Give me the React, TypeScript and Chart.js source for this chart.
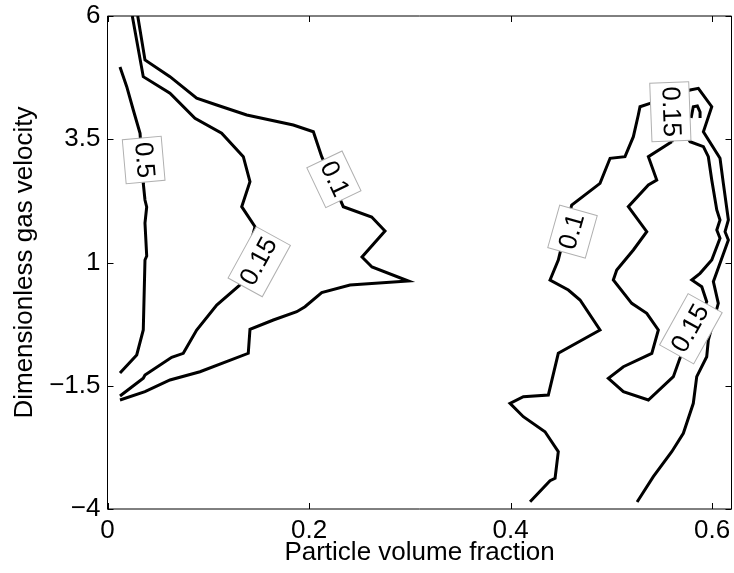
import React, { useEffect, useRef } from "react";
import { Chart, registerables } from "chart.js";

Chart.register(...registerables);

// Axis definitions
const xTicks = [0, 0.2, 0.4, 0.6];
const yTicks = [-4, -1.5, 1, 3.5, 6];
const xMin = 0;
const xMax = 0.6193;
const yMin = -4;
const yMax = 6;

// Contour 0.5 (left)
const c05X = [0.0124, 0.0191, 0.0256, 0.0323, 0.0355, 0.0372, 0.0389, 0.0372, 0.0389, 0.0372, 0.0355, 0.029, 0.0124];
const c05Y = [4.966, 4.566, 4.093, 3.621, 2.607, 2.268, 2.126, 1.801, 1.132, 1.051, -0.369, -0.876, -1.241];

// Contour 0.15 (left)
const c015LX = [0.0246, 0.0355, 0.062, 0.0868, 0.1133, 0.1348, 0.1414, 0.1332, 0.1464, 0.1315, 0.1084, 0.0885, 0.0752, 0.0637, 0.0372, 0.0355, 0.0124];
const c015LY = [6.0, 4.769, 4.432, 3.925, 3.621, 3.146, 2.639, 2.132, 1.726, 0.544, 0.138, -0.369, -0.842, -0.923, -1.282, -1.349, -1.708];

// Contour 0.1 (left)
const c01LX = [0.03, 0.0372, 0.062, 0.0885, 0.1084, 0.1382, 0.1844, 0.2043, 0.2126, 0.234, 0.2622, 0.2754, 0.2526, 0.2625, 0.2986, 0.2407, 0.2126, 0.196, 0.1878, 0.1646, 0.1414, 0.1397, 0.0918, 0.062, 0.0372, 0.0124];
const c01LY = [6.0, 5.108, 4.769, 4.331, 4.195, 3.992, 3.789, 3.653, 3.146, 2.132, 1.923, 1.639, 1.112, 0.909, 0.625, 0.544, 0.391, 0.103, 0.002, -0.166, -0.355, -0.842, -1.215, -1.383, -1.621, -1.789];

// Contour 0.1 (right arch)
const c01RX = [0.4194, 0.4392, 0.4442, 0.4474, 0.4342, 0.4127, 0.3995, 0.4127, 0.4375, 0.4474, 0.4888, 0.469, 0.4574, 0.4392, 0.4474, 0.4607, 0.4888, 0.4988, 0.5136, 0.5219, 0.5268, 0.5285, 0.5385, 0.5782, 0.5864, 0.5997, 0.5914, 0.6079, 0.6112, 0.6162, 0.6129, 0.6162, 0.6079, 0.6013, 0.6062, 0.5963, 0.5947, 0.5848, 0.5814, 0.5715, 0.56, 0.5417, 0.5256];
const c01RY = [-3.852, -3.426, -3.377, -2.838, -2.432, -2.128, -1.856, -1.722, -1.688, -0.842, -0.369, 0.239, 0.442, 0.645, 1.051, 2.166, 2.606, 3.114, 3.146, 3.552, 3.992, 4.16, 4.229, 4.499, 4.533, 4.16, 3.653, 3.114, 2.606, 1.862, 1.625, 1.456, 0.984, 0.611, 0.172, -0.572, -0.911, -1.316, -1.856, -2.465, -2.838, -3.345, -3.858];

// Contour 0.15 (right loop)
const c015RX = [0.56, 0.5368, 0.5451, 0.5368, 0.5169, 0.5352, 0.5219, 0.5054, 0.502, 0.5203, 0.5352, 0.5467, 0.5402, 0.512, 0.4971, 0.512, 0.5368, 0.5616, 0.5682, 0.5947, 0.5898, 0.5799, 0.5881, 0.5997, 0.6079, 0.6047, 0.6079, 0.6047, 0.5997, 0.5963, 0.5914, 0.5782, 0.5682, 0.56];
const c015RY = [3.45, 3.146, 2.673, 2.572, 2.132, 1.625, 1.254, 0.848, 0.645, 0.172, -0.03, -0.369, -0.842, -1.114, -1.349, -1.621, -1.789, -1.316, -0.937, 0.205, 0.509, 0.645, 0.781, 1.051, 1.491, 1.659, 1.862, 2.065, 2.673, 3.146, 3.349, 3.45, 3.789, 3.45];

// Small contour fragment next to the top-right label
const hookX = [0.5792, 0.5814, 0.5854, 0.5881, 0.5881];
const hookY = [3.931, 4.16, 4.174, 4.053, 3.931];

// Contour labels
const labelText = ["0.5", "0.1", "0.15", "0.1", "0.15", "0.15"];
const labelX = [0.0359, 0.2247, 0.1506, 0.4615, 0.5586, 0.579];
const labelY = [3.079, 2.688, 1.016, 1.625, 4.059, -0.344];
const labelAngle = [85, 64.6, -61.3, -74.3, 87.8, -60.9];

const FONT = "'Liberation Sans', Arial, Helvetica, sans-serif";

const fmt = (v: number) => (v < 0 ? "\u2212" + String(Math.abs(v)) : String(v));

const contourLabels = {
  id: "contourLabels",
  afterDatasetsDraw(chart: any) {
    const { ctx, scales } = chart;
    const xs = scales.x;
    const ys = scales.y;
    ctx.save();
    ctx.font = `26px ${FONT}`;
    for (let i = 0; i < labelText.length; i++) {
      const px = xs.getPixelForValue(labelX[i]);
      const py = ys.getPixelForValue(labelY[i]);
      const w = ctx.measureText(labelText[i]).width + 8;
      const h = 39;
      ctx.save();
      ctx.translate(px, py);
      ctx.rotate((labelAngle[i] * Math.PI) / 180);
      ctx.fillStyle = "#ffffff";
      ctx.fillRect(-w / 2, -h / 2, w, h);
      ctx.strokeStyle = "#b0b0b0";
      ctx.lineWidth = 1;
      ctx.strokeRect(-w / 2, -h / 2, w, h);
      ctx.fillStyle = "#000000";
      ctx.textAlign = "center";
      ctx.textBaseline = "middle";
      ctx.fillText(labelText[i], 0, 0);
      ctx.restore();
    }
    ctx.restore();
  },
};

const frame = {
  id: "frame",
  afterDraw(chart: any) {
    const { ctx, chartArea, scales } = chart;
    const { left, right, top, bottom } = chartArea;
    const tl = 6;
    ctx.save();
    ctx.strokeStyle = "#000000";
    ctx.lineWidth = 1;
    ctx.beginPath();
    ctx.rect(left, top, right - left, bottom - top);
    for (const v of xTicks) {
      const p = Math.round(scales.x.getPixelForValue(v)) + 0.5;
      ctx.moveTo(p, bottom);
      ctx.lineTo(p, bottom - tl);
      ctx.moveTo(p, top);
      ctx.lineTo(p, top + tl);
    }
    for (const v of yTicks) {
      const p = Math.round(scales.y.getPixelForValue(v)) + 0.5;
      ctx.moveTo(left, p);
      ctx.lineTo(left + tl, p);
      ctx.moveTo(right, p);
      ctx.lineTo(right - tl, p);
    }
    ctx.stroke();
    ctx.restore();
  },
};

export default function App() {
  const ref = useRef<HTMLCanvasElement>(null);
  useEffect(() => {
    document.body.style.margin = "0";
    const canvas = ref.current;
    if (!canvas) return;
    const mk = (xs: number[], ys: number[]) => xs.map((x, i) => ({ x, y: ys[i] }));
    const series: [number[], number[]][] = [
      [c05X, c05Y],
      [c015LX, c015LY],
      [c01LX, c01LY],
      [c01RX, c01RY],
      [c015RX, c015RY],
      [hookX, hookY],
    ];
    const chart = new Chart(canvas, {
      type: "line",
      data: {
        datasets: series.map(([xs, ys]) => ({
          data: mk(xs, ys),
          borderColor: "#000000",
          backgroundColor: "#000000",
          borderWidth: 3,
          pointRadius: 0,
          tension: 0,
          fill: false,
        })),
      },
      options: {
        animation: false,
        responsive: false,
        devicePixelRatio: 1,
        layout: { padding: { top: 16, right: 2.5, left: 0, bottom: 0 } },
        plugins: { legend: { display: false }, tooltip: { enabled: false } },
        scales: {
          x: {
            type: "linear",
            min: xMin,
            max: xMax,
            afterBuildTicks: (s: any) => {
              s.ticks = xTicks.map((v) => ({ value: v }));
            },
            afterFit: (s: any) => {
              s.height = 64;
              s.paddingLeft = 0;
              s.paddingRight = 0;
            },
            grid: { display: false, drawTicks: false },
            border: { display: false },
            ticks: {
              padding: 6,
              color: "#000000",
              font: { family: FONT, size: 26 },
              maxRotation: 0,
              autoSkip: false,
              callback: (v: any) => fmt(Number(v)),
            },
            title: {
              display: true,
              text: "Particle volume fraction",
              color: "#000000",
              font: { family: FONT, size: 26 },
              padding: { top: 0, bottom: 5 },
            },
          },
          y: {
            type: "linear",
            min: yMin,
            max: yMax,
            afterBuildTicks: (s: any) => {
              s.ticks = yTicks.map((v) => ({ value: v }));
            },
            afterFit: (s: any) => {
              s.width = 107.5;
              s.paddingTop = 0;
              s.paddingBottom = 0;
            },
            grid: { display: false, drawTicks: false },
            border: { display: false },
            ticks: {
              padding: 7,
              color: "#000000",
              font: { family: FONT, size: 26 },
              autoSkip: false,
              callback: (v: any) => fmt(Number(v)),
            },
            title: {
              display: true,
              text: "Dimensionless gas velocity",
              color: "#000000",
              font: { family: FONT, size: 26 },
              padding: { top: 9, bottom: 0 },
            },
          },
        },
      },
      plugins: [contourLabels, frame],
    } as any);
    return () => chart.destroy();
  }, []);
  return (
    <div style={{ width: 734, height: 573 }}>
      <canvas ref={ref} width={734} height={573} />
    </div>
  );
}
